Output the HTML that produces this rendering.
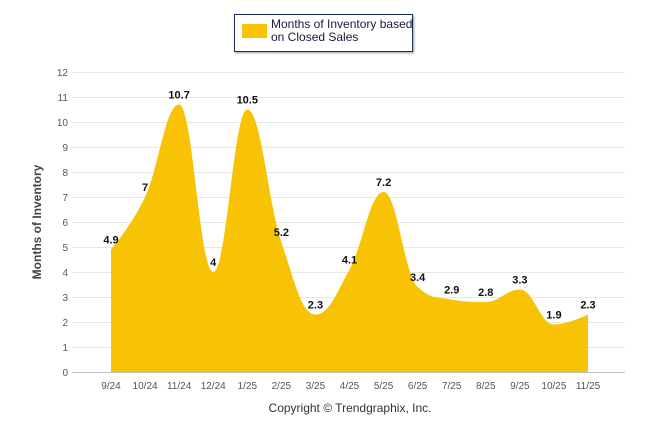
<!DOCTYPE html>
<html><head><meta charset="utf-8"><style>
body{margin:0;background:#fff;font-family:"Liberation Sans",Arial,sans-serif}
svg{display:block}
</style></head><body>
<svg id="c" width="646" height="434">
<g>
<rect x="234.5" y="14.5" width="178" height="37" fill="#fff" stroke="#1f2d5a" stroke-width="1" style="filter:drop-shadow(1px 1px 1px #999)"/>
<rect x="242" y="24" width="25" height="14" fill="#f7c304"/>
<text x="271" y="28" font-size="12" fill="#1a1a3a">Months of Inventory based</text>
<text x="271" y="41" font-size="12" fill="#1a1a3a">on Closed Sales</text>
</g>
<g id="grid"></g>
<g id="area"></g>
<g id="labels"></g>
<text transform="translate(41,222) rotate(-90)" text-anchor="middle" font-size="12" font-weight="bold" fill="#444">Months of Inventory</text>
<text x="350" y="412" text-anchor="middle" font-size="12" fill="#333">Copyright © Trendgraphix, Inc.</text>
</svg>
<script>
const categories=["9/24","10/24","11/24","12/24","1/25","2/25","3/25","4/25","5/25","6/25","7/25","8/25","9/25","10/25","11/25"];
const values=[4.9,7,10.7,4,10.5,5.2,2.3,4.1,7.2,3.4,2.9,2.8,3.3,1.9,2.3];
const yTicks=[0,1,2,3,4,5,6,7,8,9,10,11,12];
const NS="http://www.w3.org/2000/svg";
const x0=111,x1=588,yb=372,yt=72,ymax=12,gl=72,gr=625;
const X=i=>x0+(x1-x0)*i/(categories.length-1);
const Y=v=>yb-(yb-yt)*v/ymax;
function mk(t,a,p){const e=document.createElementNS(NS,t);for(const k in a)e.setAttribute(k,a[k]);p.appendChild(e);return e;}
const grid=document.getElementById('grid');
yTicks.forEach(v=>{
 const l=mk('line',{x1:gl,x2:gr,y1:Y(v)+.5,y2:Y(v)+.5,stroke:v===0?'#c0c0c0':'#e6e6e6'},grid);
 
 
 const t=mk('text',{x:68,y:Y(v)+4,'text-anchor':'end','font-size':10,fill:'#555'},grid);
 t.textContent=v;
 
 
});
categories.forEach((c,i)=>{
 const t=mk('text',{x:X(i),y:389,'text-anchor':'middle','font-size':10,fill:'#555'},grid);
 t.textContent=c;
 
 
});
const pts=values.map((v,i)=>[X(i),Y(v)]);
const s=1.5,den=s+1;
let d=`M${pts[0][0]},${yb} L${pts[0][0]},${pts[0][1]}`;
const ctrl=i=>{
 const p=pts[i],a=pts[i-1],b=pts[i+1];
 if(!a||!b)return [p,p];
 let lx=(s*p[0]+a[0])/den,ly=(s*p[1]+a[1])/den,rx=(s*p[0]+b[0])/den,ry=(s*p[1]+b[1])/den;
 let cor=0;if(rx!==lx)cor=((ry-ly)*(rx-p[0]))/(rx-lx)+p[1]-ry;
 ly+=cor;ry+=cor;
 if(ly>a[1]&&ly>p[1]){ly=Math.max(a[1],p[1]);ry=2*p[1]-ly;}else if(ly<a[1]&&ly<p[1]){ly=Math.min(a[1],p[1]);ry=2*p[1]-ly;}
 if(ry>b[1]&&ry>p[1]){ry=Math.max(b[1],p[1]);ly=2*p[1]-ry;}else if(ry<b[1]&&ry<p[1]){ry=Math.min(b[1],p[1]);ly=2*p[1]-ry;}
 return [[lx,ly],[rx,ry]];
};
const C=pts.map((p,i)=>ctrl(i));
for(let i=1;i<pts.length;i++){const c1=C[i-1][1],c2=C[i][0],p=pts[i];d+=` C${c1[0]},${c1[1]} ${c2[0]},${c2[1]} ${p[0]},${p[1]}`;}
d+=` L${pts[pts.length-1][0]},${yb} Z`;
const ar=mk('path',{d,fill:'#f7c304'},document.getElementById('area'));


const lab=document.getElementById('labels');
values.forEach((v,i)=>{
 const t=mk('text',{x:X(i),y:Y(v)-6,'text-anchor':'middle','font-size':11,'font-weight':'bold',fill:'#111'},lab);
 t.textContent=v;
 
 
});
</script>
</body></html>
